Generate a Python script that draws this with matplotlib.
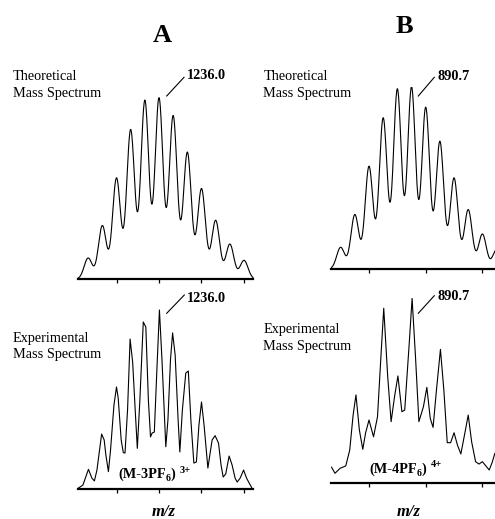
import numpy as np
import matplotlib
matplotlib.use("Agg")
import matplotlib.pyplot as plt
from matplotlib.lines import Line2D

W, H = 495, 519
SERIF = "Liberation Serif"

# Theoretical isotope patterns: peak m/z and relative intensity
theo_a_mz = [1234.333, 1234.667, 1235.0, 1235.333, 1235.667, 1236.0,
             1236.333, 1236.667, 1237.0, 1237.333, 1237.667, 1238.0]
theo_a_int = [11.6, 29.5, 55.8, 82.5, 98.7, 100.0, 90.2, 70.0, 49.9, 32.4, 19.3, 10.3]

theo_b_mz = [889.5, 889.75, 890.0, 890.25, 890.5, 890.75,
             891.0, 891.25, 891.5, 891.75, 892.0, 892.25]
theo_b_int = [11.9, 29.9, 56.4, 83.0, 98.9, 100.0, 88.8, 70.1, 50.0, 32.6, 19.2, 10.6]

# Experimental traces: m/z and relative intensity
exp_a_mz = [1234.09, 1234.21, 1234.34, 1234.42, 1234.48, 1234.54, 1234.65, 1234.71,
            1234.75, 1234.81, 1234.86, 1234.94, 1235.00, 1235.04, 1235.11, 1235.16,
            1235.20, 1235.26, 1235.32, 1235.38, 1235.44, 1235.49, 1235.55, 1235.63,
            1235.69, 1235.75, 1235.80, 1235.84, 1235.89, 1235.95, 1236.01, 1236.07,
            1236.16, 1236.21, 1236.27, 1236.32, 1236.38, 1236.45, 1236.49, 1236.55,
            1236.63, 1236.69, 1236.75, 1236.82, 1236.88, 1236.94, 1237.00, 1237.06,
            1237.15, 1237.25, 1237.32, 1237.40, 1237.46, 1237.51, 1237.57, 1237.65,
            1237.72, 1237.79, 1237.84, 1237.91, 1237.99, 1238.06, 1238.12, 1238.18]
exp_a_int = [0.3, 2.2, 11.0, 6.1, 4.5, 10.6, 30.7, 27.4,
             19.0, 9.7, 21.8, 46.9, 57.0, 50.8, 27.4, 20.3,
             20.1, 44.1, 83.8, 70.9, 44.1, 22.7, 49.7, 93.3,
             90.5, 49.7, 29.1, 31.3, 31.8, 66.5, 100.0, 72.1,
             23.6, 38.5, 72.1, 87.2, 74.9, 38.5, 20.7, 44.1,
             64.8, 65.9, 38.5, 14.5, 15.1, 35.8, 48.6, 35.8,
             11.7, 27.4, 29.8, 25.7, 13.4, 6.7, 8.4, 18.4,
             13.4, 6.1, 3.9, 6.1, 10.6, 6.1, 3.4, 0.8]

exp_b_mz = [889.34, 889.40, 889.49, 889.59, 889.66, 889.72, 889.77, 889.83,
            889.89, 889.94, 890.00, 890.08, 890.15, 890.21, 890.26, 890.33,
            890.39, 890.45, 890.51, 890.58, 890.63, 890.71, 890.76, 890.82,
            890.88, 890.96, 891.02, 891.08, 891.13, 891.19, 891.26, 891.32,
            891.38, 891.44, 891.50, 891.56, 891.62, 891.69, 891.75, 891.81,
            891.88, 891.94, 892.00, 892.12, 892.17, 892.22]
exp_b_int = [8.4, 5.1, 7.8, 9.1, 17.7, 36.7, 47.6, 28.6,
             18.1, 27.0, 34.0, 24.9, 35.8, 68.3, 94.6, 57.5,
             33.1, 46.6, 57.9, 38.5, 39.4, 75.8, 100.0, 68.3,
             33.1, 41.2, 51.7, 34.9, 30.0, 50.3, 72.3, 50.3,
             21.7, 21.7, 27.1, 20.4, 15.6, 26.8, 36.7, 22.2,
             11.4, 10.1, 11.4, 6.9, 10.8, 15.9]


def px_to_fig(x, y):
    """Pixel position (from top-left) to figure fraction."""
    return x / W, 1 - y / H


def make_axes(fig, left, right, base, top, xlim, ticks):
    """Axes whose bottom spine is the baseline of the spectrum."""
    ax = fig.add_axes([left / W, 1 - base / H, (right - left) / W, (base - top) / H])
    ax.set_xlim(*xlim)
    ax.set_ylim(0, 100)
    for side in ["left", "right", "top"]:
        ax.spines[side].set_visible(False)
    ax.spines["bottom"].set_linewidth(1.6)
    ax.set_xticks(ticks)
    ax.set_yticks([])
    ax.tick_params(axis="x", direction="out", length=3, width=0.9, labelbottom=False)
    ax.patch.set_alpha(0)
    return ax


def profile(mz, inten, grid, sigma):
    """Gaussian peak shape for each isotope line."""
    y = np.zeros_like(grid)
    for m, h in zip(mz, inten):
        y += h * np.exp(-0.5 * ((grid - m) / sigma) ** 2)
    return y


def label(fig, x, y, s, **kw):
    fx, fy = px_to_fig(x, y)
    fig.text(fx, fy, s, family=SERIF, va="baseline", **kw)


def leader(fig, x1, y1, x2, y2):
    a = px_to_fig(x1, y1)
    b = px_to_fig(x2, y2)
    fig.add_artist(Line2D([a[0], b[0]], [a[1], b[1]], transform=fig.transFigure,
                          color="black", lw=0.8))


def charge_label(ax, x, y, digit, charge, sup_dy):
    yb = H - y
    kw = dict(family=SERIF, fontweight="bold", va="baseline", ha="left",
              annotation_clip=False)
    t1 = ax.annotate(f"(M-{digit}PF", xy=(x, yb), xycoords="figure pixels", fontsize=10.3, **kw)
    t2 = ax.annotate("6", xy=(1, yb - 3), xycoords=(t1, "figure pixels"), fontsize=7, **kw)
    t3 = ax.annotate(")", xy=(1, yb), xycoords=(t2, "figure pixels"), fontsize=10.3, **kw)
    ax.annotate(charge, xy=(1, yb + sup_dy), xycoords=(t3, "figure pixels"),
                xytext=(3, 0), textcoords="offset points", fontsize=7.5, **kw)


def main() -> None:
    fig = plt.figure(figsize=(W / 100, H / 100), dpi=100)

    # m/z range of each column, from pixel positions of the ticks
    xa = (1236 + (78 - 159) / 42.5, 1236 + (253 - 159) / 42.5)
    xb = (890 + (331 - 369) / 56.7, 890 + (495 - 369) / 56.7)

    ax1 = make_axes(fig, 78, 253, 279, 98.3, xa, [1235, 1236, 1237, 1238])
    grid = np.linspace(xa[0], xa[1], 800)
    ax1.plot(grid, profile(theo_a_mz, theo_a_int, grid, 0.094), color="black", lw=0.8, clip_on=False)

    ax2 = make_axes(fig, 331, 495, 269, 87.3, xb, [890, 891, 892])
    grid = np.linspace(xb[0], xb[1], 800)
    ax2.plot(grid, profile(theo_b_mz, theo_b_int, grid, 0.07), color="black", lw=0.8)

    ax3 = make_axes(fig, 78, 253, 489, 310, xa, [1235, 1236, 1237, 1238])
    ax3.plot(exp_a_mz, exp_a_int, color="black", lw=0.8, clip_on=False)

    ax4 = make_axes(fig, 331, 495, 482.7, 298.3, xb, [890, 891, 892])
    ax4.plot(exp_b_mz, exp_b_int, color="black", lw=0.8)

    # column letters
    label(fig, 162, 41.7, "A", fontsize=19, fontweight="bold", ha="center")
    label(fig, 404, 33.3, "B", fontsize=19, fontweight="bold", ha="center")

    # panel descriptions
    for x in [12.7, 263.3]:
        label(fig, x, 80, "Theoretical", fontsize=10.3)
        label(fig, x, 96.7, "Mass Spectrum", fontsize=10.3)
    label(fig, 12.7, 341.7, "Experimental", fontsize=10.3)
    label(fig, 12.7, 358.3, "Mass Spectrum", fontsize=10.3)
    label(fig, 263.3, 332.7, "Experimental", fontsize=10.3)
    label(fig, 263.3, 350, "Mass Spectrum", fontsize=10.3)

    # peak labels with leader lines
    label(fig, 187.3, 79.3, "1236.0", fontsize=10.3, fontweight="bold")
    leader(fig, 166.7, 96, 184, 77.3)
    label(fig, 187.3, 301.7, "1236.0", fontsize=10.3, fontweight="bold")
    leader(fig, 166.7, 313.3, 184.3, 295)
    label(fig, 437.3, 80, "890.7", fontsize=10.3, fontweight="bold")
    leader(fig, 418.3, 96, 434.3, 77.3)
    label(fig, 437.3, 300, "890.7", fontsize=10.3, fontweight="bold")
    leader(fig, 418.3, 313.3, 434.3, 295.7)

    # ion labels
    charge_label(ax3, 118.3, 478.3, "3", "3+", 5)
    charge_label(ax4, 369.3, 473.3, "4", "4+", 6.5)

    # axis titles
    label(fig, 164, 516, "m/z", fontsize=12, fontweight="bold", style="italic", ha="center")
    label(fig, 409, 516, "m/z", fontsize=12, fontweight="bold", style="italic", ha="center")

    fig.savefig("out.png", dpi=100)
    plt.close(fig)


if __name__ == "__main__":
    main()
